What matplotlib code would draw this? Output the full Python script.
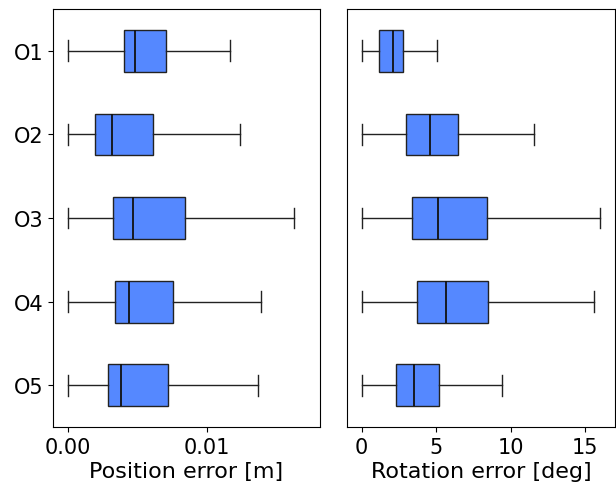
import matplotlib
matplotlib.use("Agg")
import matplotlib.pyplot as plt

categories = ["O1", "O2", "O3", "O4", "O5"]

# position error [m]: whisker low, q1, median, q3, whisker high
pos_wlo = [0.0, 0.0, 0.0, 0.0, 0.0]
pos_q1 = [0.00401, 0.00193, 0.00329, 0.00337, 0.00291]
pos_med = [0.00484, 0.00315, 0.00468, 0.00442, 0.00382]
pos_q3 = [0.00706, 0.00616, 0.00845, 0.00759, 0.00723]
pos_whi = [0.01167, 0.01239, 0.01621, 0.01389, 0.01368]

# rotation error [deg]
rot_wlo = [0.0, 0.0, 0.0, 0.0, 0.0]
rot_q1 = [1.17, 3.00, 3.34, 3.72, 2.31]
rot_med = [2.08, 4.57, 5.13, 5.67, 3.54]
rot_q3 = [2.76, 6.43, 8.43, 8.50, 5.20]
rot_whi = [5.07, 11.59, 15.96, 15.56, 9.39]

pos_ticks = [0.00, 0.01]
pos_ticklabels = ["0.00", "0.01"]
rot_ticks = [0, 5, 10, 15]


def stats(wlo, q1, med, q3, whi):
    return [dict(whislo=a, q1=b, med=c, q3=d, whishi=e, fliers=[], label=l)
            for a, b, c, d, e, l in zip(wlo, q1, med, q3, whi, categories)]


fig = plt.figure(figsize=(6.16, 4.89), dpi=100)
ax1 = fig.add_axes([53/616, 1-428/489, (320-53)/616, (428-10)/489])
ax2 = fig.add_axes([347/616, 1-428/489, (615-347)/616, (428-10)/489])

boxprops = dict(facecolor="#5588ff", edgecolor="#222222", linewidth=1.0)
lineprops = dict(color="#222222", linewidth=1.0)
positions = list(range(1, len(categories) + 1))

for ax, st in [(ax1, stats(pos_wlo, pos_q1, pos_med, pos_q3, pos_whi)),
               (ax2, stats(rot_wlo, rot_q1, rot_med, rot_q3, rot_whi))]:
    ax.bxp(st, positions=positions, vert=False, patch_artist=True, widths=0.5,
           showfliers=False, boxprops=boxprops, medianprops=dict(color="#111111", linewidth=1.3),
           whiskerprops=lineprops, capprops=lineprops)
    ax.set_ylim(5.5, 0.5)
    ax.tick_params(labelsize=15)

ax1.set_xlim(-0.00105, 0.01811)
ax1.set_xticks(pos_ticks)
ax1.set_xticklabels(pos_ticklabels)
ax1.set_yticks(positions)
ax1.set_yticklabels(categories)
ax1.set_xlabel("Position error [m]", fontsize=16, labelpad=3)

ax2.set_xlim(-0.99, 17.0)
ax2.set_xticks(rot_ticks)
ax2.set_yticks([])
ax2.set_xlabel("Rotation error [deg]", fontsize=16, labelpad=3)

fig.savefig("out.png", dpi=100)
